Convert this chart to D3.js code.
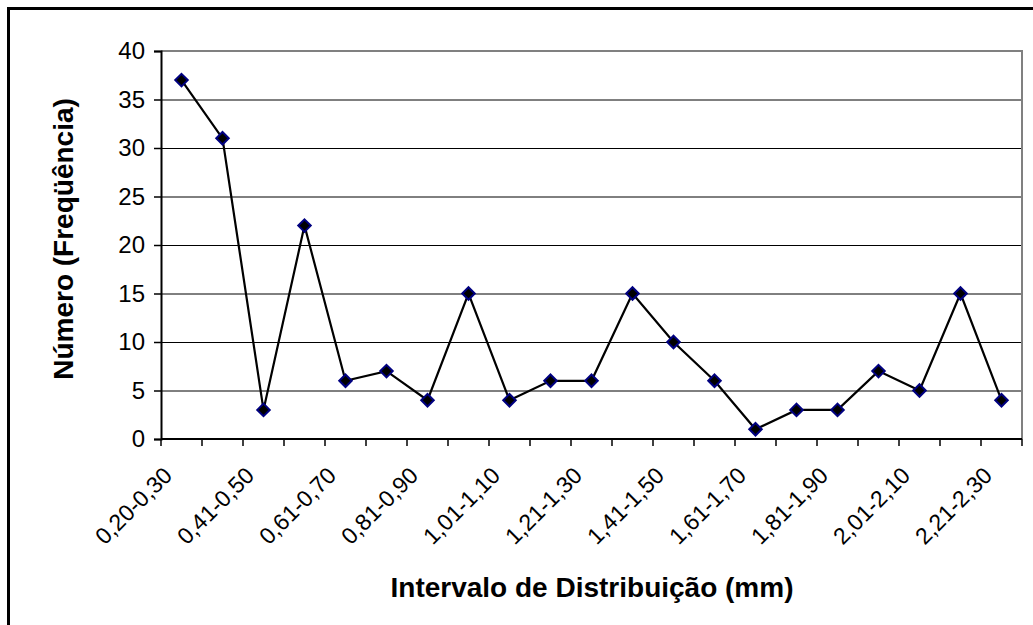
<!DOCTYPE html>
<html>
<head>
<meta charset="utf-8">
<script src="https://cdn.jsdelivr.net/npm/d3@7"></script>
<style>
  body { margin: 0; background: #fff; }
  text { font-family: Arial, "Liberation Sans", sans-serif; }
</style>
</head>
<body>
<div id="chart"></div>
<script>
// intervals (mm) and counts
var categories = ["0,20-0,30", "0,31-0,40", "0,41-0,50", "0,51-0,60", "0,61-0,70",
  "0,71-0,80", "0,81-0,90", "0,91-1,00", "1,01-1,10", "1,11-1,20", "1,21-1,30",
  "1,31-1,40", "1,41-1,50", "1,51-1,60", "1,61-1,70", "1,71-1,80", "1,81-1,90",
  "1,91-2,00", "2,01-2,10", "2,11-2,20", "2,21-2,30"];
var frequencies = [37, 31, 3, 22, 6, 7, 4, 15, 4, 6, 6, 15, 10, 6, 1, 3, 3, 7, 5, 15, 4];
var yTicks = [0, 5, 10, 15, 20, 25, 30, 35, 40];

var W = 1033, H = 625;
var margin = { top: 51, right: 11, bottom: 186, left: 161 };

var svg = d3.select("#chart")
  .append("svg")
  .attr("width", W)
  .attr("height", H);

// outer frame (runs off the right/bottom edge)
svg.append("rect")
  .attr("x", 8.5)
  .attr("y", 8.5)
  .attr("width", W + 20)
  .attr("height", H + 20)
  .attr("fill", "none")
  .attr("stroke", "#000")
  .attr("stroke-width", 3);

var xScale = d3.scaleBand()
  .domain(categories)
  .range([margin.left, W - margin.right])
  .paddingInner(0)
  .paddingOuter(0);

var yScale = d3.scaleLinear()
  .domain([0, 40])
  .range([H - margin.bottom, margin.top]);

var x0 = margin.left, x1 = W - margin.right;
var yBase = yScale(0);

// gridlines
svg.append("g")
  .attr("class", "y grid")
  .attr("transform", "translate(" + x0 + ",0)")
  .call(d3.axisLeft(yScale).tickValues(yTicks.slice(1, -1))
    .tickSize(-(x1 - x0)).tickFormat(""))
  .call(function(g) {
    g.select(".domain").remove();
    g.selectAll("line").attr("stroke", "#000").attr("stroke-width", 1);
  });

// plot area border (grey, top and right)
svg.append("path")
  .attr("d", "M" + x0 + "," + yScale(40) + "H" + x1 + "V" + yBase)
  .attr("fill", "none")
  .attr("stroke", "#808080")
  .attr("stroke-width", 2);

// y axis
svg.append("g")
  .attr("class", "y axis")
  .attr("transform", "translate(" + x0 + ",0)")
  .call(d3.axisLeft(yScale).tickValues(yTicks).tickSize(7).tickPadding(9))
  .call(function(g) {
    g.select(".domain").attr("stroke", "#000").attr("stroke-width", 2);
    g.selectAll("line").attr("stroke", "#000").attr("stroke-width", 1.5);
    g.selectAll("text").attr("font-size", 24).attr("fill", "#000")
      .attr("font-family", "Arial, 'Liberation Sans', sans-serif");
  });

// x axis line + boundary ticks
var bounds = categories.map(function(c) { return xScale(c); }).concat([x1]);
var xAxis = svg.append("g").attr("class", "x axis");
xAxis.append("line")
  .attr("x1", x0).attr("x2", x1)
  .attr("y1", yBase).attr("y2", yBase)
  .attr("stroke", "#000").attr("stroke-width", 2);
xAxis.selectAll(".tick")
  .data(bounds)
  .enter().append("line")
  .attr("class", "tick")
  .attr("x1", function(d) { return d; })
  .attr("x2", function(d) { return d; })
  .attr("y1", yBase)
  .attr("y2", yBase + 7)
  .attr("stroke", "#000")
  .attr("stroke-width", 1.5);

// every other category label, rotated
xAxis.selectAll(".lbl")
  .data(categories.filter(function(d, i) { return i % 2 === 0; }))
  .enter().append("text")
  .attr("class", "lbl")
  .attr("font-size", 23)
  .attr("text-anchor", "end")
  .attr("transform", function(d) {
    var cx = xScale(d) + xScale.bandwidth() / 2 - 8;
    return "translate(" + cx + "," + (yBase + 38) + ") rotate(-45)";
  })
  .text(function(d) { return d; });

// the line
var line = d3.line()
  .x(function(d, i) { return xScale(categories[i]) + xScale.bandwidth() / 2; })
  .y(function(d) { return yScale(d); });

svg.append("path")
  .datum(frequencies)
  .attr("class", "lijn")
  .attr("d", line)
  .attr("fill", "none")
  .attr("stroke", "#000")
  .attr("stroke-width", 2.2);

// diamond markers
var diamond = d3.symbol().type(d3.symbolDiamond2).size(100);
svg.selectAll(".dot")
  .data(frequencies)
  .enter().append("path")
  .attr("class", "dot")
  .attr("d", diamond)
  .attr("transform", function(d, i) {
    return "translate(" + (xScale(categories[i]) + xScale.bandwidth() / 2) + "," + yScale(d) + ")";
  })
  .attr("fill", "#000")
  .attr("stroke", "#000080")
  .attr("stroke-width", 2);

// axis titles
svg.append("text")
  .attr("text-anchor", "middle")
  .attr("x", 592)
  .attr("y", 597)
  .attr("font-size", 28)
  .attr("font-weight", "bold")
  .text("Intervalo de Distribuição (mm)");

svg.append("text")
  .attr("text-anchor", "middle")
  .attr("transform", "translate(73," + 239 + ") rotate(-90)")
  .attr("font-size", 28)
  .attr("font-weight", "bold")
  .text("Número (Freqüência)");
</script>
</body>
</html>
